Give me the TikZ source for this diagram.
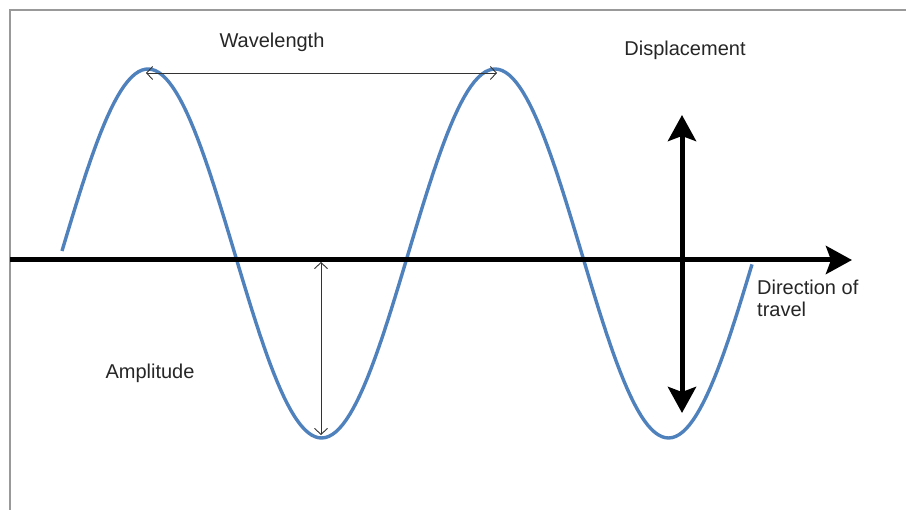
\documentclass[tikz,border=0pt]{standalone}
\usepackage{fontspec}
\setmainfont{Liberation Sans}
\usetikzlibrary{arrows.meta}
\definecolor{wave}{RGB}{79,129,189}
\tikzset{
  bigtip/.tip={Stealth[length=26pt,width=28pt,inset=5pt]},
  smalltip/.tip={Straight Barb[length=6pt,width=13pt]},
}
\begin{document}
\begin{tikzpicture}[x=1pt,y=-1pt,
    lbl/.style={font=\fontsize{20}{22}\selectfont,text=black!85,inner sep=0pt},
    thinarrow/.style={line width=0.9pt,black!80,{smalltip}-{smalltip}},
    boldarrow/.style={line width=5pt,black}]
  \useasboundingbox (0,0) rectangle (906,510);
  % frame
  \draw[line width=2pt,black!40] (10,510) -- (10,10) -- (906,10);

  % the wave
  \draw[wave,line width=3.4pt,domain=62:752,samples=200]
    plot (\x,{253.5-184.5*cos((\x-148)/347*360)});

  % points on the wave and axes
  \coordinate (axisstart) at (10,260);
  \coordinate (axisend) at (852,260);
  \coordinate (peakone) at (146,73);
  \coordinate (peaktwo) at (497,73);
  \coordinate (zero) at (321,262);
  \coordinate (trough) at (321,435);
  \coordinate (disptop) at (682,115);
  \coordinate (dispbottom) at (682,413);

  % arrows
  \draw[boldarrow,-{bigtip}] (axisstart) -- (axisend);
  \draw[boldarrow,{bigtip}-{bigtip}] (disptop) -- (dispbottom);
  \draw[thinarrow] (peakone) -- (peaktwo);
  \draw[thinarrow] (zero) -- (trough);

  % labels
  \node[lbl] (wavelength) at (272,42) {Wavelength};
  \node[lbl] (displacement) at (685,50) {Displacement};
  \node[lbl] (amplitude) at (150,373) {Amplitude};
  \node[lbl,anchor=north west,align=left] (direction) at (757,280) {Direction of\\travel};
\end{tikzpicture}
\end{document}
